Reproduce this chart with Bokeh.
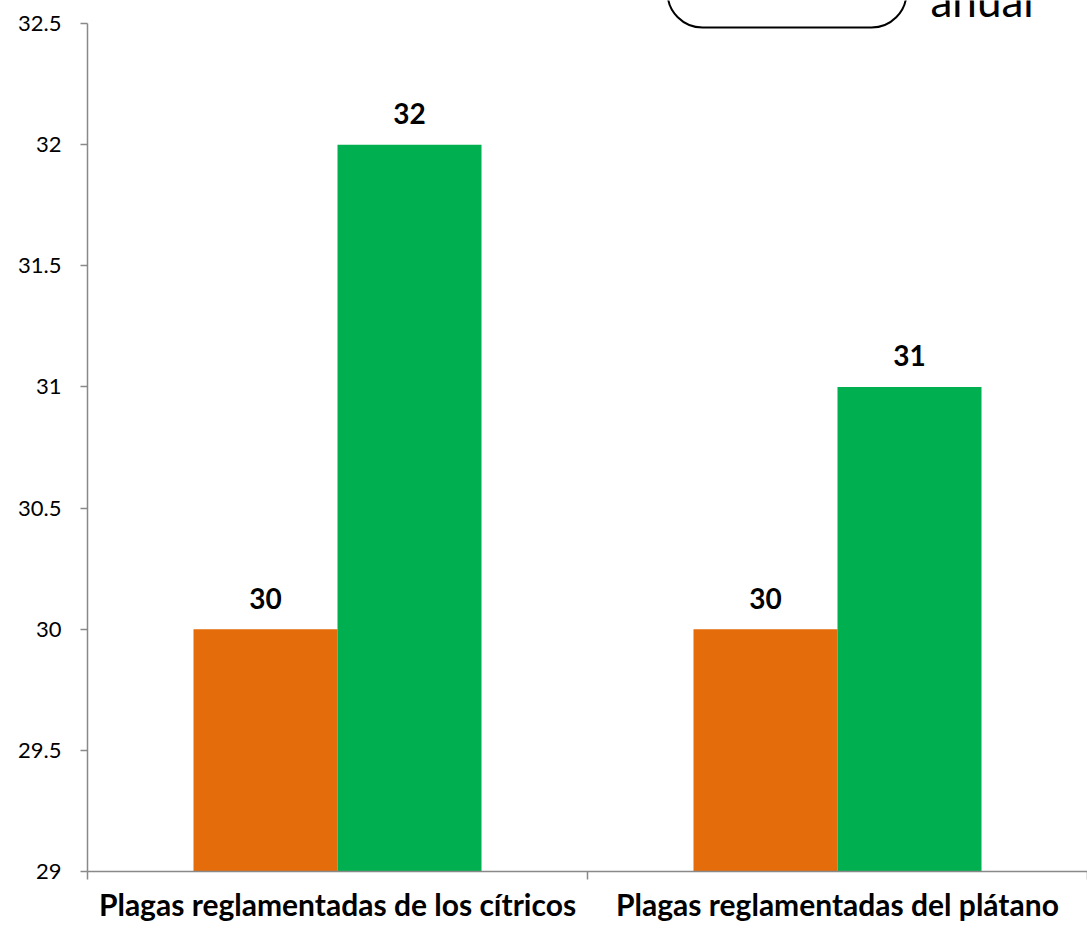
from bokeh.plotting import figure
from bokeh.models import FixedTicker, Range1d, ColumnDataSource
from bokeh.core.properties import value
from bokeh.embed import file_html
from bokeh.resources import INLINE

categories = ["Plagas reglamentadas de los cítricos", "Plagas reglamentadas del plátano"]
series_a = [30, 30]
series_b = [32, 31]
y_ticks = [29, 29.5, 30, 30.5, 31, 31.5, 32, 32.5]
y_tick_labels = ["29", "29.5", "30", "30.5", "31", "31.5", "32", "32.5"]
legend_text = "anual"

ORANGE = "#E46C0A"
GREEN = "#00B050"
AXIS = "#898989"
BAR_W = 0.288

# pixel -> data helper for the vertical axis (848 px span for the axis range)
unit = (y_ticks[-1] - y_ticks[0]) / 848.0

centers = [i + 0.5 for i in range(len(categories))]
xa = [c - BAR_W / 2 for c in centers]
xb = [c + BAR_W / 2 for c in centers]

p = figure(width=1087, height=930, output_backend="svg", toolbar_location=None,
           x_range=Range1d(0, len(categories)),
           y_range=Range1d(y_ticks[0], y_ticks[-1] + 23 * unit),
           min_border_left=87, min_border_right=0, min_border_top=0, min_border_bottom=59)
p.outline_line_color = None
p.grid.visible = False
p.background_fill_color = "white"

src_a = ColumnDataSource(dict(x=xa, top=series_a, lab=[str(v) for v in series_a]))
src_b = ColumnDataSource(dict(x=xb, top=series_b, lab=[str(v) for v in series_b]))
p.vbar(x="x", top="top", bottom=y_ticks[0], width=BAR_W, source=src_a, fill_color=ORANGE, line_color=None)
p.vbar(x="x", top="top", bottom=y_ticks[0], width=BAR_W, source=src_b, fill_color=GREEN, line_color=None)

for s in (src_a, src_b):
    p.text(x="x", y="top", text="lab", source=s, text_align="center", text_baseline="alphabetic",
           y_offset=-31, text_font=value("Lato"), text_font_style="bold", text_font_size="28px",
           text_color="black")

# x axis
p.xaxis.ticker = FixedTicker(ticks=centers, minor_ticks=list(range(len(categories) + 1)))
p.xaxis.major_label_overrides = {c: n for c, n in zip(centers, categories)}
p.xaxis.major_tick_line_color = None
p.xaxis.major_tick_out = 0
p.xaxis.major_tick_in = 0
p.xaxis.minor_tick_out = 8
p.xaxis.minor_tick_in = 0
p.xaxis.minor_tick_line_color = AXIS
p.xaxis.minor_tick_line_width = 1.5
p.xaxis.axis_line_color = AXIS
p.xaxis.axis_line_width = 1.5
p.xaxis.major_label_standoff = 6
p.xaxis.major_label_text_font = "Lato"
p.xaxis.major_label_text_font_style = "bold"
p.xaxis.major_label_text_font_size = "30px"
p.xaxis.major_label_text_color = "black"

# y axis
p.yaxis.ticker = FixedTicker(ticks=y_ticks, minor_ticks=[])
p.yaxis.bounds = (y_ticks[0], y_ticks[-1])
p.yaxis.major_label_overrides = {t: l for t, l in zip(y_ticks, y_tick_labels)}
p.yaxis.major_tick_out = 7
p.yaxis.major_tick_in = 0
p.yaxis.major_tick_line_color = AXIS
p.yaxis.major_tick_line_width = 1.5
p.yaxis.axis_line_color = AXIS
p.yaxis.axis_line_width = 1.5
p.yaxis.major_label_standoff = 19
p.yaxis.major_label_text_font = "Lato"
p.yaxis.major_label_text_font_size = "22px"
p.yaxis.major_label_text_color = "black"

# partially visible legend (cut at the top of the picture)
p.quad(left=[1.16], right=[1.638], bottom=[y_ticks[-1] - 4 * unit], top=[y_ticks[-1] + 80 * unit],
       fill_color="white", line_color="black", line_width=2, border_radius=35)
p.text(x=[1.686], y=[y_ticks[-1] + 24 * unit], text=[legend_text], text_font=value("Lato"),
       text_font_size="44px", text_color="black", text_baseline="alphabetic")

open("out.html", "w").write(file_html(p, INLINE))
